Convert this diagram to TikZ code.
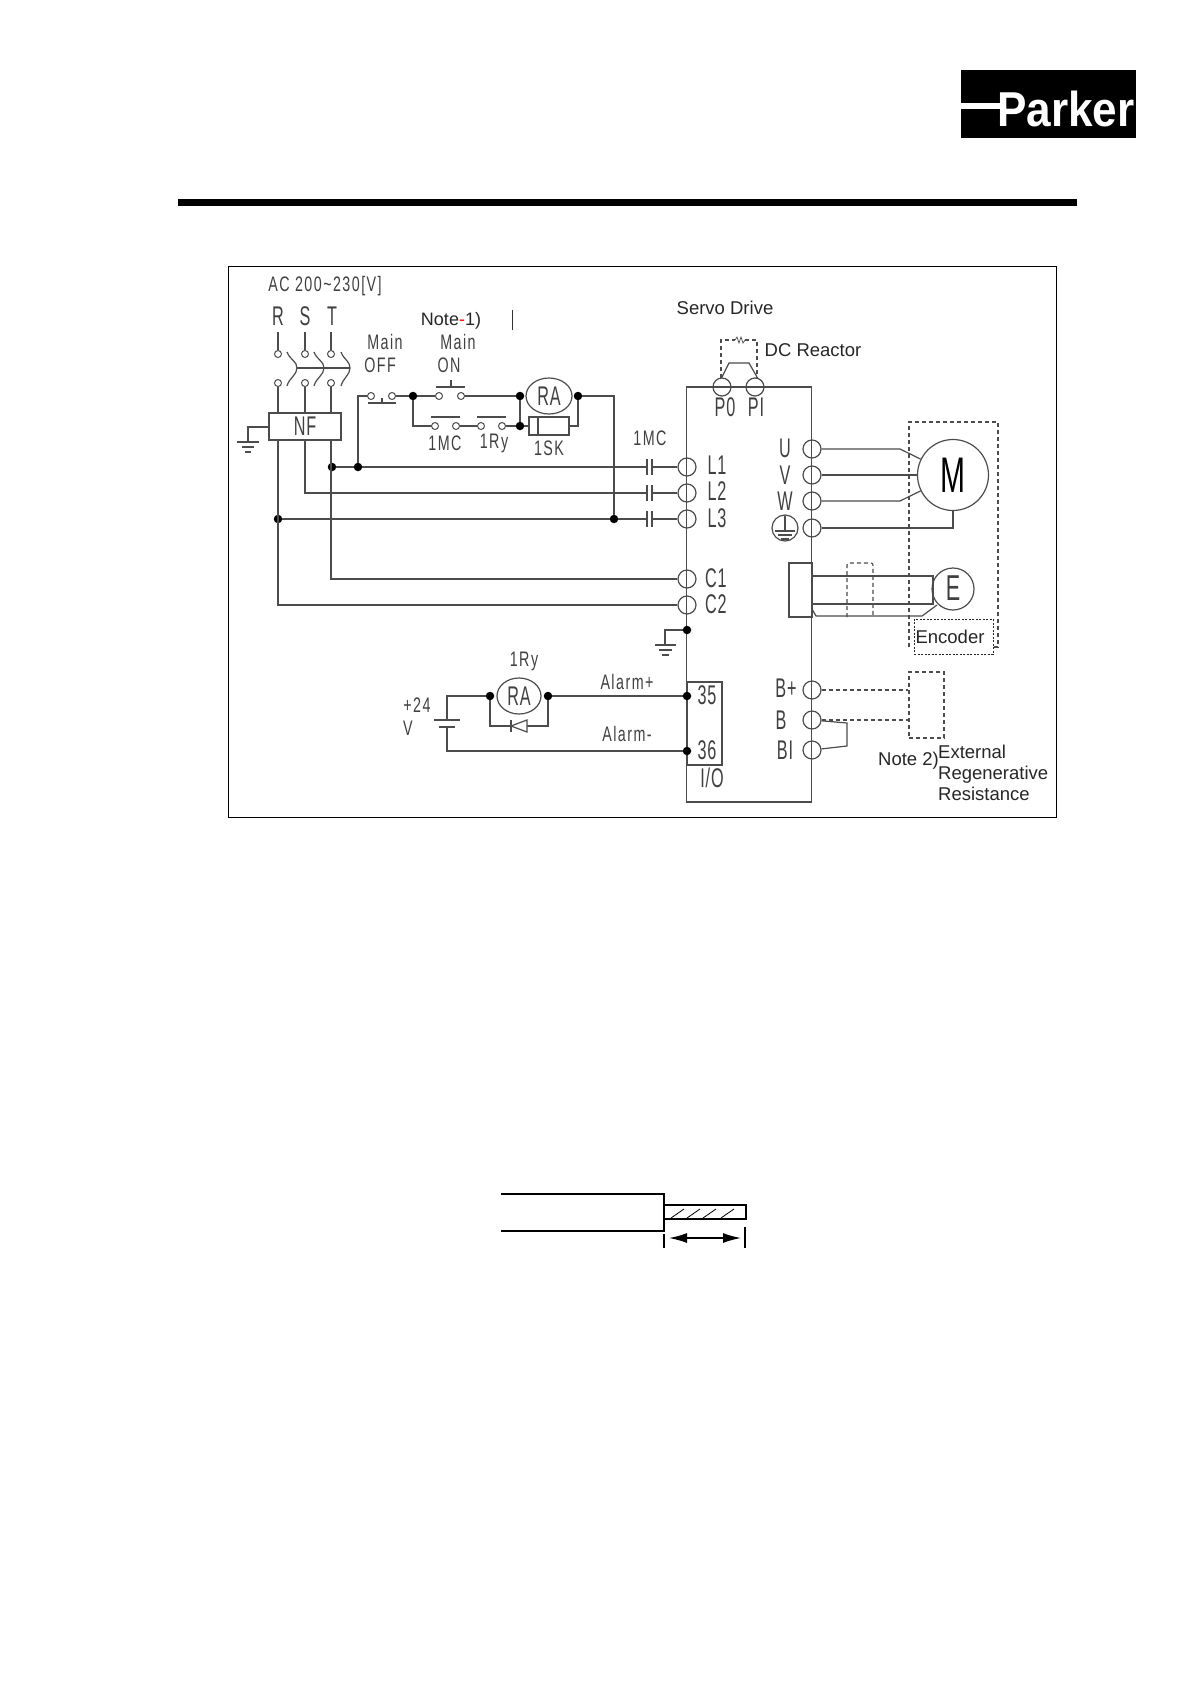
\documentclass[tikz,border=0pt]{standalone}
\usepackage{fontspec}
\setmainfont{Liberation Sans}
\newfontfamily\gul[FakeStretch=0.68,LetterSpace=7]{Liberation Sans}
\newfontfamily\gulb[FakeStretch=0.6,LetterSpace=3]{Liberation Sans}
\newfontfamily\logofont[FakeStretch=0.9]{Liberation Sans}
\usetikzlibrary{calc,positioning,arrows,arrows.meta,shapes.geometric}
\definecolor{wire}{gray}{0.3}
\tikzset{%
  font=\scriptsize,>=latex,
  lab/.style    = {inner sep=0pt,text=black!75,font=\gul\fontsize{21}{21}\selectfont},
  biglab/.style = {inner sep=0pt,text=black!75,font=\gulb\fontsize{27}{27}\selectfont},
  arial/.style  = {inner sep=0pt,text=black!85,font=\fontsize{18.5}{18.5}\selectfont},
  term/.style   = {draw=wire,circle,inner sep=0pt,minimum size=18pt,line width=1.2pt},
  sw/.style     = {draw=wire,circle,inner sep=0pt,minimum size=7pt,line width=1pt},
  dot/.style    = {fill=black,circle,inner sep=0pt,minimum size=8.5pt},
  box/.style    = {draw=wire,rectangle,inner sep=0pt,line width=1.2pt},
  wr/.style     = {draw=wire,line width=1.2pt},
  dsh/.style    = {draw=wire,line width=1.1pt,dash pattern=on 4pt off 3pt}
}
\begin{document}
\begin{tikzpicture}[x=1pt,y=-1pt]
	\useasboundingbox (0,0) rectangle (1191,1684);
	% header
	\fill[black] (178,199) rectangle (1077,205.5);
	\fill[black] (961,70) rectangle (1136,138);
	\node[inner sep=0pt,text=white,font=\logofont\bfseries\fontsize{49}{49}\selectfont] (parker) at (1066,109) {Parker};
	\draw[white,line width=6pt] (961,105.5) -- (1006,105.5);
	\draw[black,line width=1pt] (228,266) rectangle (1056.5,817);

	% mains
	\node[lab] (ac) at (325,286) {AC 200\textasciitilde 230[V]};
	\node[biglab] (rl) at (278,316) {R};
	\node[biglab] (sl) at (305,316) {S};
	\node[biglab] (tl) at (332,316) {T};
	\coordinate (r0) at (278,332);
	\coordinate (s0) at (305,332);
	\coordinate (t0) at (331,332);
	\node[sw] (r1) at (278,354) {};
	\node[sw] (s1) at (305,354) {};
	\node[sw] (t1) at (331,354) {};
	\node[sw] (r2) at (278,383) {};
	\node[sw] (s2) at (305,383) {};
	\node[sw] (t2) at (331,383) {};
	\node[box,minimum width=72pt,minimum height=27pt] (nf) at (305,426.5) {};
	\node[biglab] (nfl) at (305,426) {NF};
	\draw[wr] (r0) -- (r1);
	\draw[wr] (s0) -- (s1);
	\draw[wr] (t0) -- (t1);
	\draw[wr] (r2) -- (r2 |- nf.north);
	\draw[wr] (s2) -- (s2 |- nf.north);
	\draw[wr] (t2) -- (t2 |- nf.north);
	% breaker
	\draw[wr] (287,352) .. controls (290,360) and (297,361) .. (297,368) .. controls (297,375) and (289,378) .. (287,386);
	\draw[wr] (314,352) .. controls (317,360) and (324,361) .. (324,368) .. controls (324,375) and (316,378) .. (314,386);
	\draw[wr] (341,352) .. controls (344,360) and (350,361) .. (350,368) .. controls (350,375) and (343,378) .. (341,386);
	\draw[wr] (297,368) -- (350,368);
	% earth of NF
	\draw[wr] (nf.west |- 0,427) -- (248,427) -- (248,442);
	\draw[wr] (237,442) -- (259,442) (242,447) -- (254,447) (245,452) -- (251,452);

	% drive
	\node[box,minimum width=125pt,minimum height=415pt] (drive) at (749.2,594.5) {};
	\node[arial] (servo) at (725,308) {Servo Drive};
	\node[arial] (react) at (813,350) {DC Reactor};
	\node[term] (p0) at (722,387) {};
	\node[term] (p1) at (755,387) {};
	\node[biglab] (p0l) at (725,407) {P0};
	\node[biglab] (p1l) at (756,407) {PI};
	\draw[wr] (722,377) -- (729,363) -- (749,363) -- (757,377);
	\draw[dsh] (721,378) -- (721,340) -- (735,340);
	\draw[dsh] (745,340) -- (757,340) -- (757,378);
	\draw[wr,line width=.7pt] (735,340) -- (737,337) -- (739,343) -- (741,337) -- (743,343) -- (745,340);

	\node[term] (l1) at (687,467) {};
	\node[term] (l2) at (687,493) {};
	\node[term] (l3) at (687,519) {};
	\node[term] (c1) at (687,579) {};
	\node[term] (c2) at (687,605) {};
	\node[biglab] (l1l) at (717,465) {L1};
	\node[biglab] (l2l) at (717,491) {L2};
	\node[biglab] (l3l) at (717,518) {L3};
	\node[biglab] (c1l) at (716,578) {C1};
	\node[biglab] (c2l) at (716,604) {C2};
	\node[lab] (mcl) at (650,438) {1MC};

	% main lines with 1MC contacts
	\node[dot] (dt) at (332,467) {};
	\node[dot] (dm) at (358,467) {};
	\node[dot] (dr) at (278,519) {};
	\node[dot] (dc) at (614,519) {};
	\coordinate (a1) at (647,467);
	\coordinate (b1) at (652,467);
	\coordinate (a2) at (647,493);
	\coordinate (b2) at (652,493);
	\coordinate (a3) at (647,519);
	\coordinate (b3) at (652,519);
	\draw[wr] (dt) -- (dm) -- (a1);
	\draw[wr] (b1) -- (l1);
	\draw[wr] (s2 |- nf.south) |- (a2);
	\draw[wr] (b2) -- (l2);
	\draw[wr] (dr) -- (dc) -- (a3);
	\draw[wr] (b3) -- (l3);
	\draw[wr] (647,459) -- (647,475) (652,459) -- (652,475);
	\draw[wr] (647,485) -- (647,501) (652,485) -- (652,501);
	\draw[wr] (647,511) -- (647,527) (652,511) -- (652,527);
	\draw[wr] (r2 |- nf.south) |- (c2);
	\draw[wr] (t2 |- nf.south) |- (c1);

	% control circuit
	\node[lab] (ml1) at (385,342) {Main};
	\node[lab] (ml2) at (380,365) {OFF};
	\node[lab] (ml3) at (458,342) {Main};
	\node[lab] (ml4) at (449,365) {ON};
	\node[arial,font=\fontsize{18}{18}\selectfont] (note1) at (451,321) {Note\textcolor{red}{-}1)};
	\draw[black!80,line width=1pt] (512,310) -- (512,330);
	\node[sw] (off1) at (371,396) {};
	\node[sw] (off2) at (392,396) {};
	\node[sw] (on1) at (439,396) {};
	\node[sw] (on2) at (461,396) {};
	\node[sw] (mc1) at (435,426) {};
	\node[sw] (mc2) at (456,426) {};
	\node[sw] (ry1) at (481,426) {};
	\node[sw] (ry2) at (502,426) {};
	\node[dot] (da) at (413,396) {};
	\node[dot] (db) at (520,396) {};
	\node[dot] (dd) at (520,426) {};
	\node[dot] (de) at (578,396) {};
	\node[draw=wire,ellipse,inner sep=0pt,minimum width=46pt,minimum height=36pt,line width=1.2pt] (ra) at (549,396) {};
	\node[biglab] (ral) at (549,396) {RA};
	\node[box,minimum width=40pt,minimum height=18pt] (sk) at (549,426) {};
	\node[lab] (mcc) at (445,443) {1MC};
	\node[lab] (ryc) at (494,443) {1Ry};
	\node[lab] (skc) at (549,448) {1SK};
	\draw[wr] (dm) |- (off1);
	\draw[wr] (off2) -- (da) -- (on1);
	\draw[wr] (on2) -- (db);
	\draw[wr] (da) |- (mc1);
	\draw[wr] (mc2) -- (ry1);
	\draw[wr] (ry2) -- (dd) -- (sk);
	\draw[wr] (db) -- (dd);
	\draw[wr] (de) -| (dc);
	\draw[wr] (sk) -| (de);
	\draw[wr] (538,417) -- (538,435);
	\draw[wr] (368,403) -- (396,403) (382,398) -- (382,403);
	\draw[wr] (436,387) -- (465,387) (451,380) -- (451,387);
	\draw[wr] (431,417) -- (460,417) (477,417) -- (506,417);

	% motor side
	\node[term] (u) at (812,449) {};
	\node[term] (v) at (812,475) {};
	\node[term] (w) at (812,501) {};
	\node[term] (g) at (812,528) {};
	\node[biglab] (ul) at (785,448) {U};
	\node[biglab] (vl) at (785,475) {V};
	\node[biglab] (wl) at (785,501) {W};
	\node[term,minimum size=26pt] (gl) at (785,528) {};
	\draw[wr] (785,516) -- (785,531) (775,531) -- (795,531) (778,535) -- (792,535) (781,539) -- (789,539);
	\node[draw=wire,circle,inner sep=0pt,minimum size=71pt,line width=1.2pt] (m) at (953,475) {};
	\node[inner sep=0pt,text=black,font=\gulb\fontsize{50}{50}\selectfont] (ml) at (953,475) {M};
	\draw[wr] (u) -- (900,449) -- (m);
	\draw[wr] (v) -- (m);
	\draw[wr] (w) -- (900,501) -- (m);
	\draw[wr] (g) -| (m);
	\draw[dsh] (909,647) -- (909,422) -- (998,422) -- (998,647) -- (990,647);

	% encoder
	\node[box,minimum width=23pt,minimum height=54pt] (conn) at (800.5,590) {};
	\node[draw=wire,circle,inner sep=0pt,minimum size=42pt,line width=1.2pt] (enc) at (953,589) {};
	\node[biglab,font=\gulb\fontsize{36}{36}\selectfont] (encl) at (953,588) {E};
	\draw[wr] (812,576) -- (933,576) -- (933,604) -- (812,604);
	\draw[wr] (812,609) -- (816,616) -- (922,616) -- (937,605);
	\draw[dsh,rounded corners=2pt] (847,617) -- (847,563) -- (873,563) -- (873,617);
	\node[draw=black!85,fill=white,dash pattern=on 2pt off 1.5pt,minimum width=79pt,minimum height=35pt,inner sep=0pt,line width=.8pt] (encbox) at (953.5,636.5) {};
	\node[arial] (encoder) at (950,637) {Encoder};

	% earth of drive
	\node[dot] (de1) at (687,630) {};
	\draw[wr] (de1) -- (665,630) -- (665,645);
	\draw[wr] (655,645) -- (676,645) (659,650) -- (672,650) (662,655) -- (669,655);

	% alarm and I/O
	\node[box,minimum width=35pt,minimum height=83pt] (io) at (704.5,723.5) {};
	\node[biglab] (n35) at (707,695) {35};
	\node[biglab] (n36) at (707,750) {36};
	\node[biglab] (iol) at (712,778) {I/O};
	\node[dot] (d35) at (687,696) {};
	\node[dot] (d36) at (687,751) {};
	\node[dot] (dl) at (490,696) {};
	\node[dot] (dh) at (548,696) {};
	\node[draw=wire,ellipse,inner sep=0pt,minimum width=44pt,minimum height=36pt,line width=1.2pt] (ra2) at (519,696) {};
	\node[biglab] (ra2l) at (519,696) {RA};
	\node[lab] (ry) at (524,661) {1Ry};
	\node[lab] (alp) at (627,682) {Alarm+};
	\node[lab] (alm) at (627,734) {Alarm-};
	\node[lab] (v24) at (417,705) {+24};
	\node[lab] (v24b) at (408,728) {V};
	\coordinate (bat1) at (447,720);
	\coordinate (bat2) at (447,727);
	\draw[wr] (dl) -| (bat1);
	\draw[wr] (dh) -- (d35);
	\draw[wr] (bat2) |- (d36);
	\draw[wr] (434,720) -- (460,720) (439,727) -- (455,727);
	\draw[wr] (dl) |- (548,726) -- (dh);
	\draw[wr,fill=white] (527,720) -- (527,732) -- (511,726) -- cycle;
	\draw[wr] (511,720) -- (511,732);

	% regenerative resistance
	\node[term] (bp) at (812,690) {};
	\node[term] (bm) at (812,720) {};
	\node[term] (bi) at (812,750) {};
	\node[biglab] (bpl) at (786,688) {B+};
	\node[biglab] (bml) at (781,720) {B};
	\node[biglab] (bil) at (785,750) {BI};
	\node[draw=wire,dash pattern=on 4pt off 3pt,minimum width=35pt,minimum height=66pt,inner sep=0pt,line width=1.1pt] (res) at (926.5,705) {};
	\draw[dsh] (bp) -- (bp -| res.west);
	\draw[dsh] (bm) -- (bm -| res.west);
	\draw[wr] (bm) -- (847,723) -- (847,746) -- (bi);
	\node[arial,anchor=base west] (note2) at (878,765.5) {Note 2)};
	\node[arial,anchor=base west] (ext1) at (938,758.5) {External};
	\node[arial,anchor=base west] (ext2) at (938,779.5) {Regenerative};
	\node[arial,anchor=base west] (ext3) at (938,800.5) {Resistance};

	% stripped wire
	\draw[black,line width=1.2pt] (501,1194) -- (664,1194) -- (664,1231) -- (501,1231);
	\draw[black,line width=1.2pt] (664,1205) -- (746,1205) -- (746,1219) -- (664,1219);
	\draw[black,line width=.8pt] (671,1218) -- (684,1209) (687,1218) -- (700,1209) (703,1218) -- (716,1209) (721,1218) -- (734,1209);
	\draw[black,line width=1.2pt] (664,1234) -- (664,1248) (745,1227) -- (745,1248);
	\coordinate (dimL) at (669,1238);
	\coordinate (dimR) at (741,1238);
	\draw[black,line width=1.5pt,{Latex[length=18pt,width=10pt]}-{Latex[length=18pt,width=10pt]}] (dimL) -- (dimR);
\end{tikzpicture}
\end{document}
